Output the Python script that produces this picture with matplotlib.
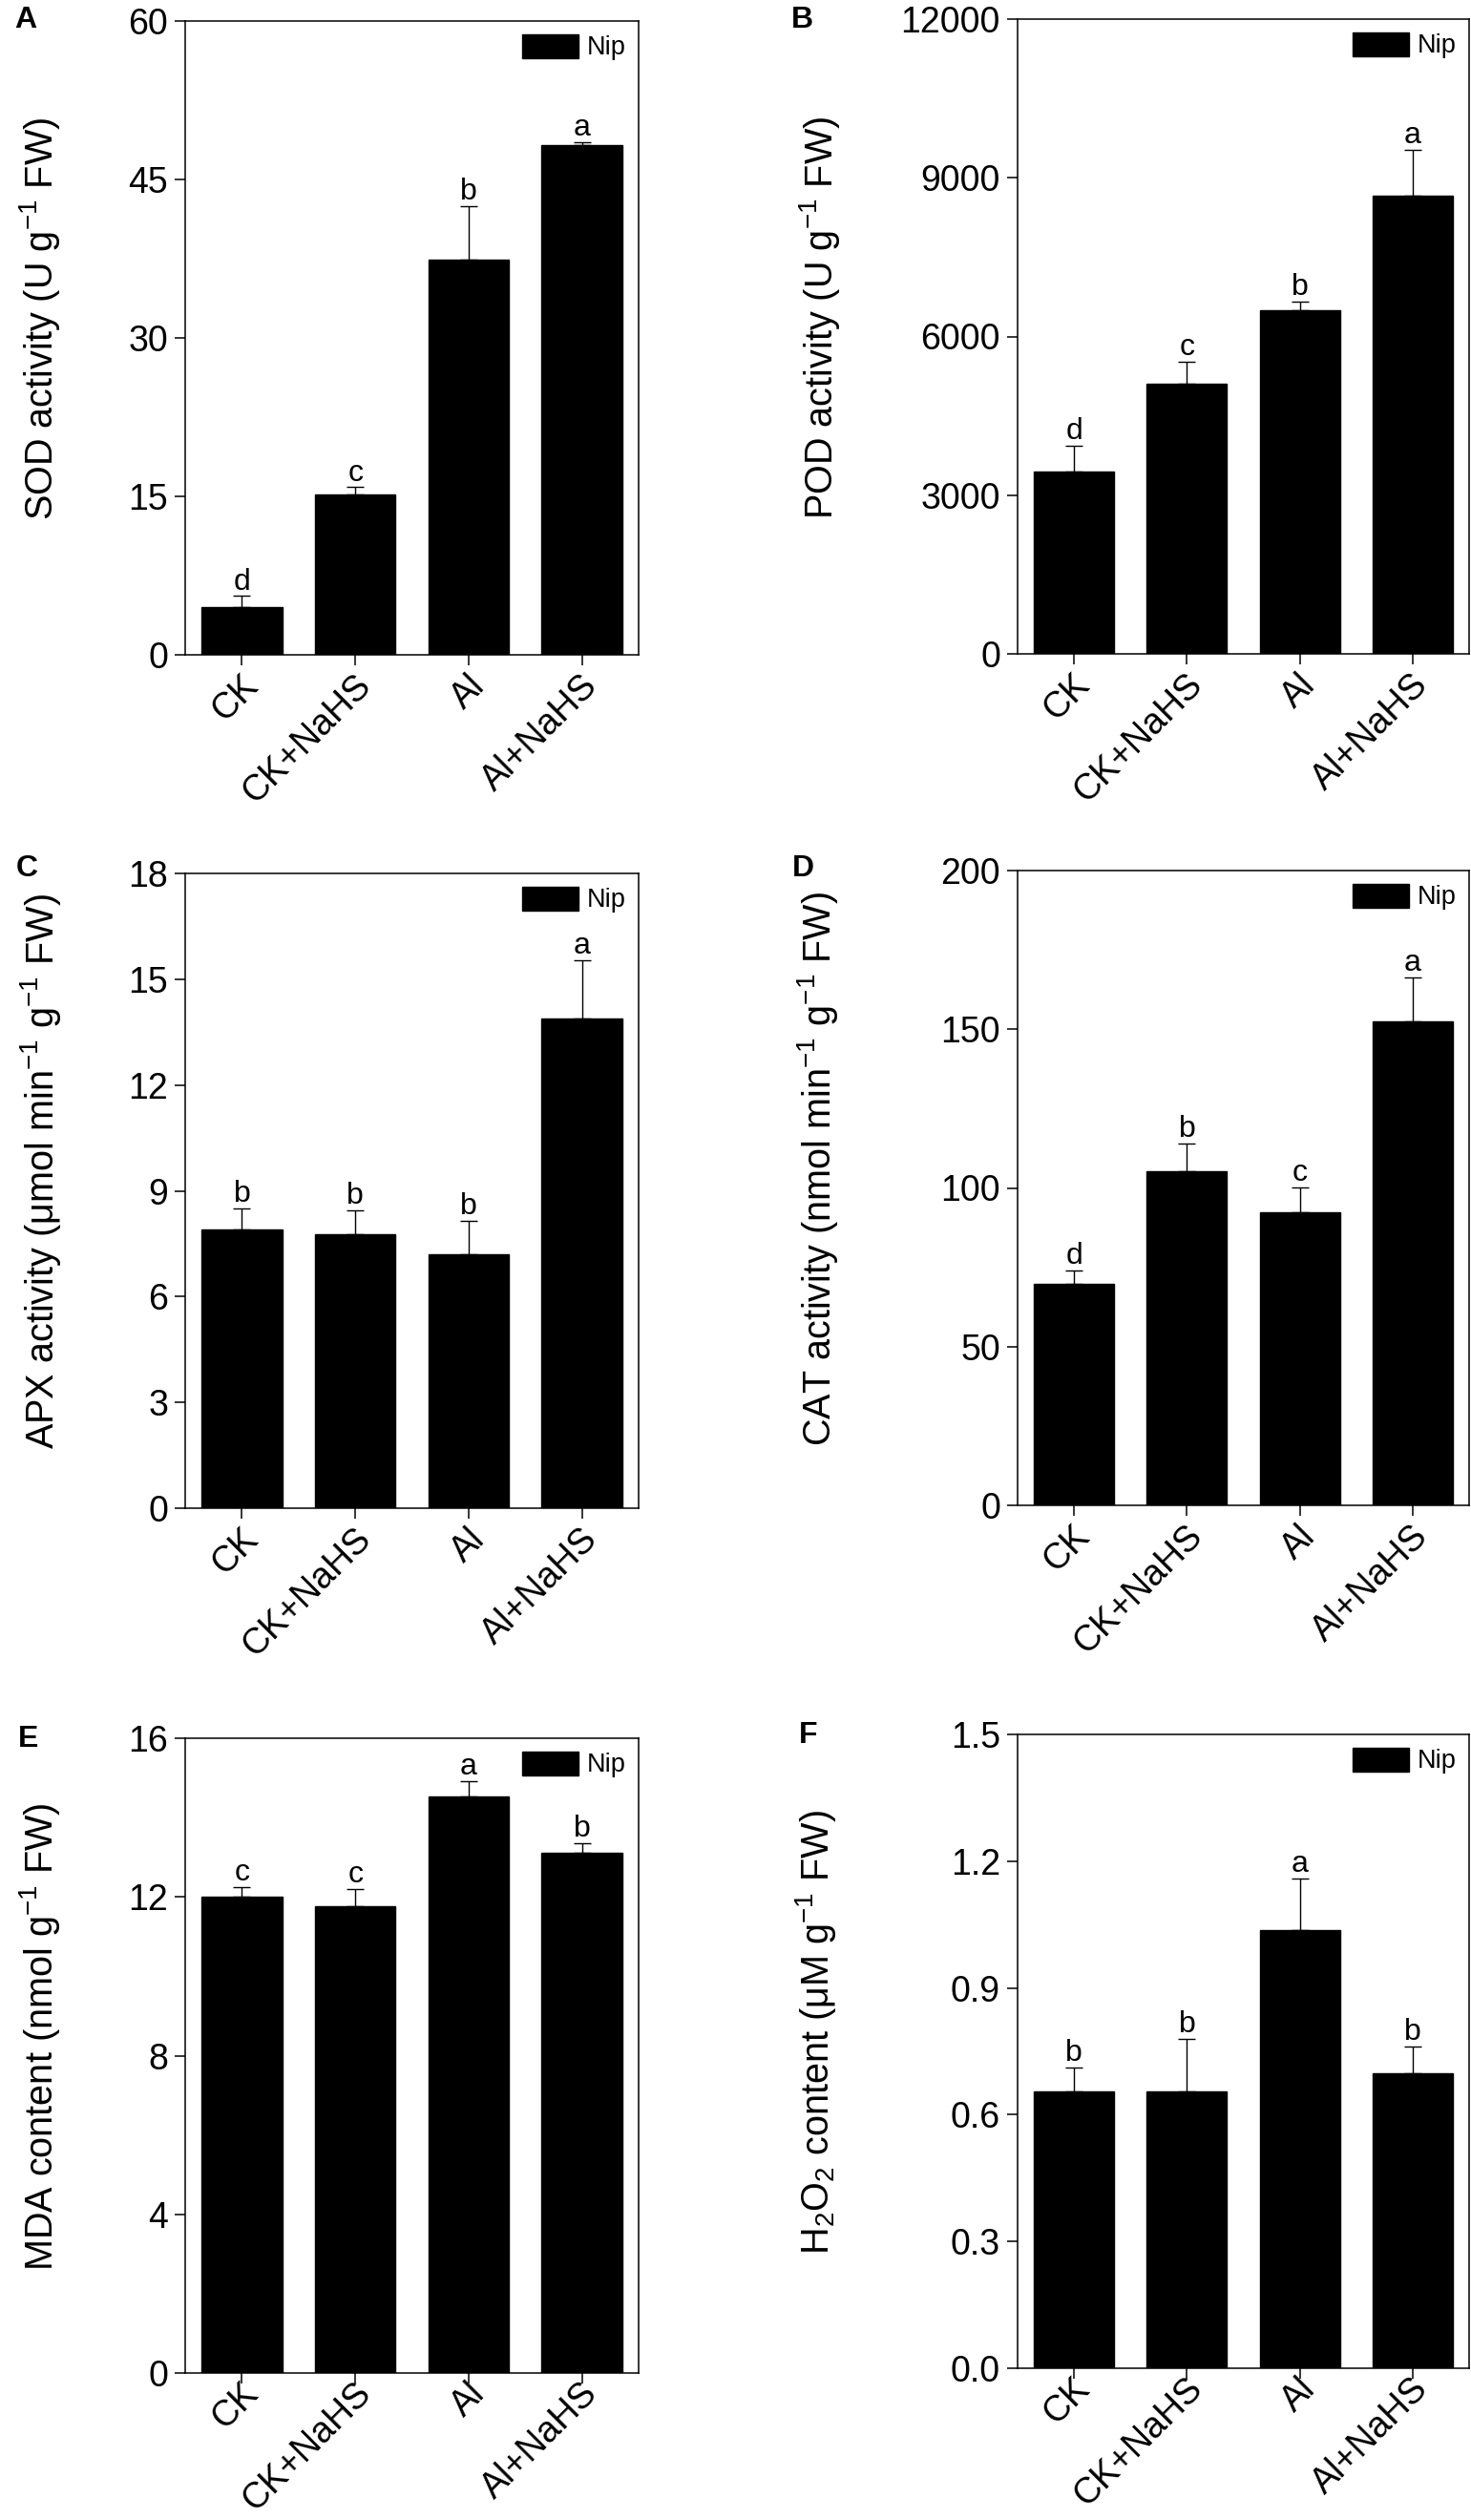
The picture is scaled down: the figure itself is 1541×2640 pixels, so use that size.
import matplotlib
matplotlib.use("Agg")
import matplotlib.pyplot as plt
import matplotlib.transforms as mtransforms
from matplotlib.patches import Patch
import numpy as np

plt.rcParams['font.family'] = ['Liberation Sans', 'DejaVu Sans']
plt.rcParams['mathtext.fontset'] = 'custom'
plt.rcParams['mathtext.rm'] = 'Liberation Sans'
plt.rcParams['mathtext.it'] = 'Liberation Sans:italic'
plt.rcParams['mathtext.bf'] = 'Liberation Sans:bold'

# treatments, same for every panel
treatments = ["CK", "CK+NaHS", "Al", "Al+NaHS"]

# A - SOD
sod_mean = [4.56, 15.2, 37.4, 48.25]
sod_err = [1.0, 0.66, 5.07, 0.25]
sod_sig = ["d", "c", "b", "a"]

# B - POD
pod_mean = [3443, 5104, 6501, 8658]
pod_err = [496, 425, 152, 871]
pod_sig = ["d", "c", "b", "a"]

# C - APX
apx_mean = [7.90, 7.78, 7.19, 13.88]
apx_err = [0.59, 0.67, 0.96, 1.67]
apx_sig = ["b", "b", "b", "a"]

# D - CAT
cat_mean = [69.7, 105.3, 92.2, 152.4]
cat_err = [4.2, 8.6, 8.1, 13.8]
cat_sig = ["d", "b", "c", "a"]

# E - MDA
mda_mean = [12.0, 11.76, 14.53, 13.12]
mda_err = [0.24, 0.43, 0.39, 0.23]
mda_sig = ["c", "c", "a", "b"]

# F - H2O2
h2o2_mean = [0.656, 0.654, 1.038, 0.697]
h2o2_err = [0.056, 0.125, 0.122, 0.065]
h2o2_sig = ["b", "b", "a", "b"]

DPI = 100
W, H = 1541.0, 2640.0


def draw_panel(fig, rect, letter, letter_pos, means, errs, sig, ylabel,
               ymax, yticks, ticklabels, label_x, name_dy=-27):
    ax = fig.add_axes(rect)
    x = np.arange(len(treatments))
    ax.bar(x, means, width=0.71, color='black', edgecolor='black')
    ax.errorbar(x, means, yerr=[np.zeros(len(errs)), errs], fmt='none',
                ecolor='black', elinewidth=1.0, capsize=6.5, capthick=1.0)
    for xi, m, e, s in zip(x, means, errs, sig):
        ax.annotate(s, (xi, m + e), xytext=(0, 5), textcoords='offset points',
                    ha='center', va='baseline', fontsize=23)

    ax.set_xlim(-0.5, 3.5)
    ax.set_ylim(0, ymax)
    ax.set_yticks(yticks)
    ax.set_yticklabels(ticklabels)
    ax.set_xticks(x)
    ax.set_xticklabels([])

    # rotated treatment names, anchored by their right end below each tick
    offset = mtransforms.ScaledTranslation(11 / DPI, name_dy / DPI,
                                           fig.dpi_scale_trans)
    for xi, name in zip(x, treatments):
        ax.text(xi, 0, name, transform=ax.get_xaxis_transform() + offset,
                rotation=45, ha='right', va='center', rotation_mode='anchor',
                fontsize=27)

    ax.tick_params(axis='both', direction='out', length=8, width=1.1,
                   labelsize=27, top=False, right=False)
    ax.tick_params(axis='y', pad=5)
    for sp in ax.spines.values():
        sp.set_linewidth(1.1)

    ax.set_ylabel(ylabel, fontsize=28.5)
    ax.yaxis.set_label_coords(label_x, 0.53)

    ax.legend(handles=[Patch(facecolor='black', edgecolor='black', label='Nip')],
              loc='upper right', frameon=False, fontsize=19.5,
              handlelength=2.2, handleheight=1.05, handletextpad=0.3,
              borderaxespad=0.0, borderpad=0.5)

    fig.text(letter_pos[0] / W, 1 - letter_pos[1] / H, letter, fontsize=23,
             fontweight='bold', ha='left', va='top')
    return ax


def rect(left, top, right, bottom):
    return [left / W, 1 - bottom / H, (right - left) / W, (bottom - top) / H]


fig = plt.figure(figsize=(W / DPI, H / DPI), dpi=DPI)

draw_panel(fig, rect(194, 22, 669, 686), "A", (15, 6),
           sod_mean, sod_err, sod_sig, r"SOD activity (U g$^{-1}$ FW)",
           60, [0, 15, 30, 45, 60], ["0", "15", "30", "45", "60"], -0.272)
draw_panel(fig, rect(1066, 20, 1539, 685), "B", (829, 6),
           pod_mean, pod_err, pod_sig, r"POD activity (U g$^{-1}$ FW)",
           12000, [0, 3000, 6000, 9000, 12000],
           ["0", "3000", "6000", "9000", "12000"], -0.389)
draw_panel(fig, rect(194, 915, 669, 1580), "C", (17, 895),
           apx_mean, apx_err, apx_sig,
           r"APX activity (μmol min$^{-1}$ g$^{-1}$ FW)",
           18, [0, 3, 6, 9, 12, 15, 18],
           ["0", "3", "6", "9", "12", "15", "18"], -0.27)
draw_panel(fig, rect(1066, 912, 1539, 1577), "D", (830, 895),
           cat_mean, cat_err, cat_sig,
           r"CAT activity (nmol min$^{-1}$ g$^{-1}$ FW)",
           200, [0, 50, 100, 150, 200], ["0", "50", "100", "150", "200"], -0.394)
draw_panel(fig, rect(194, 1821, 669, 2486), "E", (19, 1807),
           mda_mean, mda_err, mda_sig, r"MDA content (nmol g$^{-1}$ FW)",
           16, [0, 4, 8, 12, 16], ["0", "4", "8", "12", "16"], -0.272,
           name_dy=-16)
draw_panel(fig, rect(1066, 1817, 1539, 2481), "F", (837, 1803),
           h2o2_mean, h2o2_err, h2o2_sig,
           r"H$_2$O$_2$ content (μM g$^{-1}$ FW)",
           1.5, [0, 0.3, 0.6, 0.9, 1.2, 1.5],
           ["0.0", "0.3", "0.6", "0.9", "1.2", "1.5"], -0.398, name_dy=-16)

plt.savefig("out.png", dpi=DPI)
